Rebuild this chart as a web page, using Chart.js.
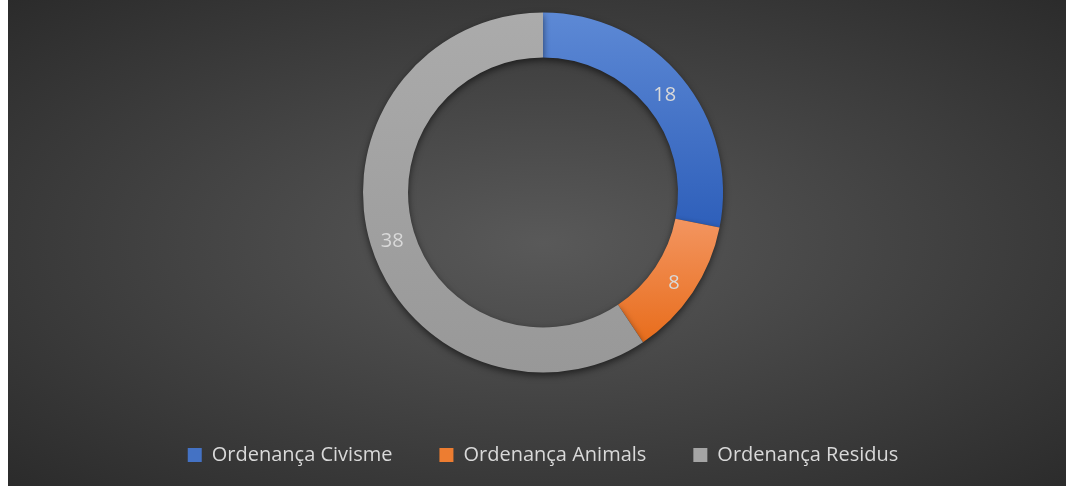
<!DOCTYPE html>
<html>
<head>
<meta charset="utf-8">
<script src="https://cdn.jsdelivr.net/npm/chart.js@4/dist/chart.umd.min.js"></script>
<style>
  html, body { margin: 0; padding: 0; background: #fff; overflow: hidden; }
  #frame {
    position: absolute; left: 8px; top: 0; width: 1070px; height: 486px; overflow: hidden;
    background: radial-gradient(ellipse farthest-corner at 50% 50%, #595959 0%, #2b2b2b 100%);
  }
  #wrap { position: absolute; left: 0; top: -13px; width: 1070px; height: 488px; }
</style>
</head>
<body>
<div id="frame"><div id="wrap"><canvas id="chart"></canvas></div></div>
<script>
// dades
var categories = ['Ordenança Civisme', 'Ordenança Animals', 'Ordenança Residus'];
var values = [18, 8, 38];

// colors (clar a dalt, fosc a baix)
var lightColors = ['#5d89d5', '#f39560', '#ababab'];
var darkColors = ['#2e5fba', '#e86d1c', '#989898'];
var boxColors = ['#4472c4', '#ed7d31', '#a5a5a5'];

//degradat vertical per a cada porció
function sliceGradient(ctx) {
    var chart = ctx.chart, area = chart.chartArea, i = ctx.dataIndex;
    if (!area) return boxColors[i];
    var total = values.reduce(function (a, b) { return a + b; }, 0);
    var before = 0;
    for (var k = 0; k < i; k++) before += values[k];
    var a0 = -Math.PI / 2 + before / total * Math.PI * 2;
    var a1 = a0 + values[i] / total * Math.PI * 2;
    var cy = (area.top + area.bottom) / 2;
    var rOut = 180, rIn = rOut * 0.75;
    var yMin = Infinity, yMax = -Infinity;
    for (var s = 0; s <= 60; s++) {
        var a = a0 + (a1 - a0) * s / 60;
        [rOut, rIn].forEach(function (r) {
            var y = cy + r * Math.sin(a);
            yMin = Math.min(yMin, y); yMax = Math.max(yMax, y);
        });
    }
    var g = chart.ctx.createLinearGradient(0, yMin, 0, yMax);
    g.addColorStop(0, lightColors[i]);
    g.addColorStop(1, darkColors[i]);
    return g;
}

//ombra + etiquetes
var ringPlugin = {
    id: 'ringPlugin',
    beforeDatasetsDraw: function (chart) {
        var c = chart.ctx;
        c.save();
        c.shadowColor = 'rgba(0,0,0,0.55)';
        c.shadowBlur = 7;
        c.shadowOffsetY = 3;
    },
    afterDatasetsDraw: function (chart) {
        var c = chart.ctx;
        c.restore();
        var meta = chart.getDatasetMeta(0);
        c.save();
        c.font = '20px "Open Sans"';
        c.fillStyle = '#d9d9d9';
        c.textAlign = 'center';
        c.textBaseline = 'middle';
        meta.data.forEach(function (arc, i) {
            var p = arc.tooltipPosition();
            c.fillText(String(values[i]), p.x, p.y + 3);
        });
        c.restore();
    }
};

var chart = new Chart(document.getElementById('chart'), {
    type: 'doughnut',
    data: {
        labels: categories,
        datasets: [{
            data: values,
            backgroundColor: sliceGradient,
            borderWidth: 0
        }]
    },
    options: {
        responsive: true,
        maintainAspectRatio: false,
        animation: false,
        radius: 180,
        cutout: '75%',
        layout: { padding: 0 },
        plugins: {
            tooltip: { enabled: false },
            legend: {
                position: 'bottom',
                labels: {
                    color: '#d9d9d9',
                    font: { family: 'Open Sans', size: 20 },
                    boxWidth: 14,
                    boxHeight: 14,
                    padding: 47,
                    generateLabels: function (ch) {
                        return categories.map(function (t, i) {
                            return { text: t, fillStyle: boxColors[i], strokeStyle: boxColors[i], lineWidth: 0, fontColor: '#d9d9d9', index: i };
                        });
                    }
                }
            }
        }
    },
    plugins: [ringPlugin]
});
</script>
</body>
</html>
